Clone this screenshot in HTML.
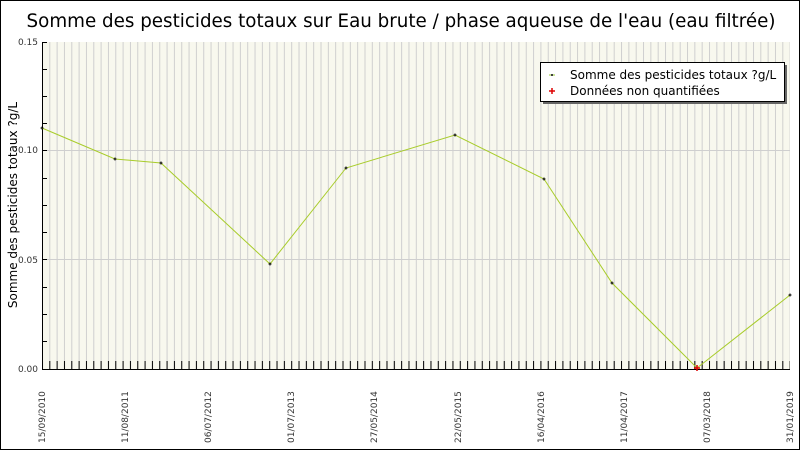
<!DOCTYPE html>
<html><head><meta charset="utf-8"><style>body{margin:0}svg{display:block}</style></head><body>
<svg width="800" height="450" xmlns="http://www.w3.org/2000/svg" font-family="'DejaVu Sans', 'Liberation Sans', sans-serif">
<defs>
<pattern id="vg" patternUnits="userSpaceOnUse" x="49.3" y="0" width="7.33" height="450">
<line x1="0.5" y1="0" x2="0.5" y2="450" stroke="#cfcfcf" stroke-width="1"/>
</pattern>
<pattern id="vt" patternUnits="userSpaceOnUse" x="49.3" y="0" width="7.33" height="450">
<line x1="0.5" y1="0" x2="0.5" y2="450" stroke="#000" stroke-width="1"/>
</pattern>
</defs>
<rect x="0.5" y="0.5" width="799" height="449" fill="#fff" stroke="#000"/>
<text x="401" y="27" font-size="18.3" text-anchor="middle">Somme des pesticides totaux sur Eau brute / phase aqueuse de l'eau (eau filtrée)</text>
<rect x="42" y="42" width="748" height="327" fill="#f8f8ee"/>
<rect x="43" y="42" width="747" height="327" fill="url(#vg)"/>
<line x1="42" y1="150.5" x2="790" y2="150.5" stroke="#cfcfcf"/>
<line x1="42" y1="259.5" x2="790" y2="259.5" stroke="#cfcfcf"/>
<rect x="43" y="361" width="747" height="8" fill="url(#vt)"/>
<g stroke="#000">
<line x1="42" y1="42.5" x2="47" y2="42.5"/><line x1="42" y1="69.5" x2="47" y2="69.5"/><line x1="42" y1="96.5" x2="47" y2="96.5"/><line x1="42" y1="123.5" x2="47" y2="123.5"/><line x1="42" y1="150.5" x2="47" y2="150.5"/><line x1="42" y1="178.5" x2="47" y2="178.5"/><line x1="42" y1="205.5" x2="47" y2="205.5"/><line x1="42" y1="232.5" x2="47" y2="232.5"/><line x1="42" y1="259.5" x2="47" y2="259.5"/><line x1="42" y1="287.5" x2="47" y2="287.5"/><line x1="42" y1="314.5" x2="47" y2="314.5"/><line x1="42" y1="341.5" x2="47" y2="341.5"/>
</g>
<line x1="42.5" y1="42" x2="42.5" y2="370" stroke="#000"/>
<line x1="42" y1="369.5" x2="790" y2="369.5" stroke="#000"/>
<g font-size="9" fill="#333" text-anchor="end">
<text x="38" y="45">0.15</text><text x="38" y="153">0.10</text><text x="38" y="263">0.05</text><text x="38" y="372">0.00</text>
</g>
<text transform="translate(17,205) rotate(-90)" font-size="12" text-anchor="middle">Somme des pesticides totaux ?g/L</text>
<g font-size="9" fill="#333">
<text transform="translate(45,443) rotate(-90)">15/09/2010</text>
<text transform="translate(128,443) rotate(-90)">11/08/2011</text>
<text transform="translate(211,443) rotate(-90)">06/07/2012</text>
<text transform="translate(294,443) rotate(-90)">01/07/2013</text>
<text transform="translate(377,443) rotate(-90)">27/05/2014</text>
<text transform="translate(461,443) rotate(-90)">22/05/2015</text>
<text transform="translate(544,443) rotate(-90)">16/04/2016</text>
<text transform="translate(627,443) rotate(-90)">11/04/2017</text>
<text transform="translate(710,443) rotate(-90)">07/03/2018</text>
<text transform="translate(793,443) rotate(-90)">31/01/2019</text>
</g>
<polyline fill="none" stroke="#a8cc2a" stroke-width="1" points="42,128 115,159 161,163 270,264 346,168 455,135 544,179 612,283 697,368 790,295"/>
<g stroke="#000">
<path d="M40.5,128h3M42,126.5v3"/><path d="M113.5,159h3M115,157.5v3"/><path d="M159.5,163h3M161,161.5v3"/><path d="M268.5,264h3M270,262.5v3"/><path d="M344.5,168h3M346,166.5v3"/><path d="M453.5,135h3M455,133.5v3"/><path d="M542.5,179h3M544,177.5v3"/><path d="M610.5,283h3M612,281.5v3"/><path d="M788.5,295h3M790,293.5v3"/>
</g>
<path d="M694,368h6M697,365v6" stroke="#d00" stroke-width="1.5"/>
<rect x="543" y="65" width="244" height="39" fill="#666"/>
<rect x="540.5" y="62.5" width="244" height="39" fill="#fff" stroke="#000"/>
<path d="M549,75h6" stroke="#9c3"/><path d="M551,75h2M552,74v2" stroke="#000"/>
<path d="M549,91h6M552,88v6" stroke="#d00" stroke-width="1.5"/>
<text x="570" y="79" font-size="12">Somme des pesticides totaux ?g/L</text>
<text x="570" y="95" font-size="12">Données non quantifiées</text>
</svg>
</body></html>
